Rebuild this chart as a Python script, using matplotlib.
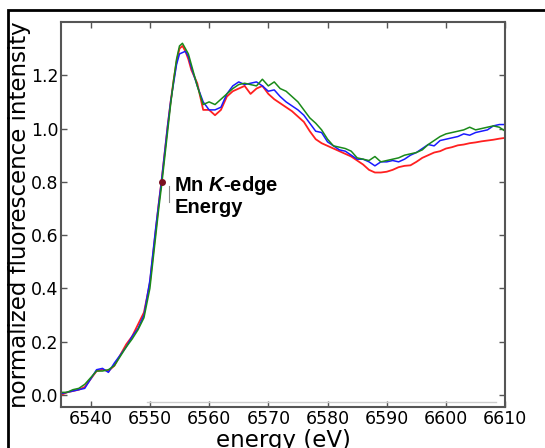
import matplotlib.pyplot as plt
from matplotlib.patches import Rectangle

energy = [6535, 6536, 6537, 6538, 6539, 6540, 6541, 6542, 6543, 6544, 6545, 6546,
          6547, 6548, 6549, 6550, 6550.5, 6551, 6551.5, 6552, 6552.5, 6553, 6553.5,
          6554, 6554.5, 6555, 6555.5, 6556, 6556.5, 6557, 6558, 6559, 6560, 6561,
          6562, 6563, 6564, 6565, 6566, 6567, 6568, 6569, 6570, 6571, 6572, 6573,
          6574, 6575, 6576, 6577, 6578, 6579, 6580, 6581, 6582, 6583, 6584, 6585,
          6586, 6587, 6588, 6589, 6590, 6591, 6592, 6593, 6594, 6595, 6596, 6597,
          6598, 6599, 6600, 6601, 6602, 6603, 6604, 6605, 6606, 6607, 6608, 6609, 6610]

red = [0.00, 0.01, 0.015, 0.02, 0.03, 0.06, 0.09, 0.095, 0.09, 0.11, 0.15, 0.19,
       0.22, 0.265, 0.31, 0.42, 0.52, 0.62, 0.72, 0.81, 0.91, 1.01, 1.10,
       1.18, 1.25, 1.30, 1.31, 1.29, 1.26, 1.22, 1.17, 1.07, 1.07, 1.05,
       1.07, 1.12, 1.14, 1.15, 1.16, 1.13, 1.15, 1.16, 1.13, 1.11, 1.095, 1.08,
       1.065, 1.045, 1.025, 0.99, 0.96, 0.945, 0.935, 0.925, 0.915, 0.905, 0.895, 0.88,
       0.865, 0.845, 0.835, 0.835, 0.838, 0.845, 0.855, 0.86, 0.862, 0.875, 0.89, 0.90,
       0.91, 0.915, 0.925, 0.93, 0.937, 0.94, 0.945, 0.948, 0.952, 0.955, 0.958, 0.962, 0.965]

blue = [0.005, 0.01, 0.015, 0.02, 0.025, 0.06, 0.095, 0.10, 0.085, 0.12, 0.15, 0.18,
        0.22, 0.25, 0.30, 0.43, 0.53, 0.63, 0.72, 0.81, 0.91, 1.01, 1.10,
        1.17, 1.24, 1.28, 1.285, 1.29, 1.27, 1.23, 1.16, 1.10, 1.07, 1.07,
        1.08, 1.13, 1.16, 1.175, 1.165, 1.17, 1.175, 1.16, 1.14, 1.145, 1.12, 1.10,
        1.085, 1.07, 1.05, 1.02, 0.99, 0.985, 0.95, 0.935, 0.92, 0.915, 0.90, 0.885,
        0.885, 0.875, 0.86, 0.875, 0.875, 0.88, 0.875, 0.885, 0.90, 0.91, 0.925, 0.94,
        0.935, 0.955, 0.96, 0.965, 0.97, 0.98, 0.975, 0.985, 0.99, 0.995, 1.01, 1.015, 1.015]

green = [0.01, 0.01, 0.02, 0.025, 0.04, 0.065, 0.09, 0.09, 0.095, 0.11, 0.145, 0.18,
         0.21, 0.245, 0.29, 0.40, 0.50, 0.60, 0.70, 0.79, 0.89, 0.99, 1.09,
         1.18, 1.26, 1.31, 1.32, 1.30, 1.28, 1.24, 1.16, 1.09, 1.10, 1.09,
         1.11, 1.13, 1.15, 1.165, 1.17, 1.165, 1.16, 1.185, 1.16, 1.175, 1.15, 1.14,
         1.12, 1.10, 1.07, 1.04, 1.02, 0.995, 0.96, 0.935, 0.93, 0.925, 0.915, 0.89,
         0.885, 0.88, 0.895, 0.875, 0.88, 0.885, 0.89, 0.90, 0.905, 0.91, 0.92, 0.94,
         0.955, 0.97, 0.98, 0.985, 0.99, 0.995, 1.005, 0.995, 1.0, 1.005, 1.01, 1.005, 0.99]

edge_energy = 6552
edge_value = 0.8

plt.rcParams['mathtext.fontset'] = 'custom'
plt.rcParams['mathtext.bfit'] = 'Liberation Sans:bold:italic'
plt.rcParams['mathtext.bf'] = 'Liberation Sans:bold'
plt.rcParams['mathtext.it'] = 'Liberation Sans:italic'
plt.rcParams['mathtext.rm'] = 'Liberation Sans'

fig = plt.figure(figsize=(5.45, 4.48), dpi=100)
fig.patches.append(Rectangle((8 / 545, -0.1), 1.2, 1.1 - 10 / 448, transform=fig.transFigure,
                             fill=False, edgecolor='black', linewidth=2))
ax = fig.add_axes([0.112, 0.0915, 0.815, 0.8595])

ax.plot([6549.5, 6608.5], [-0.025, -0.025], color='#cccccc', linewidth=1)
ax.plot(energy, red, color='#ff2020', linewidth=1.3)
ax.plot(energy, blue, color='#1a1aff', linewidth=1.1)
ax.plot(energy, green, color='#1a8a1a', linewidth=1.1)
ax.plot(edge_energy, edge_value, 'o', color='#7a1020', markersize=4)
ax.plot([6553.3, 6553.3], [0.725, 0.785], color='#888888', linewidth=0.8)
ax.text(6554.1, 0.83, 'Mn $\\bfit{K}$-edge\nEnergy', fontsize=14.5, fontweight='bold',
        family='Liberation Sans', va='top', ha='left', linespacing=1.05)

ax.set_xlim(6535, 6610)
ax.set_ylim(-0.045, 1.4)
ax.set_xticks(range(6540, 6611, 10))
ax.set_yticks([0.0, 0.2, 0.4, 0.6, 0.8, 1.0, 1.2])
ax.tick_params(direction='in', length=4, width=1, color='#555555', labelsize=12.5,
               top=True, right=True, pad=2)
for s in ax.spines.values():
    s.set_color('#555555')
    s.set_linewidth(1.5)

ax.set_xlabel('energy (eV)', fontsize=16.5, labelpad=1)
ax.set_ylabel('normalized fluorescence intensity', fontsize=16.5, labelpad=0)

fig.savefig('out.png', dpi=100)
